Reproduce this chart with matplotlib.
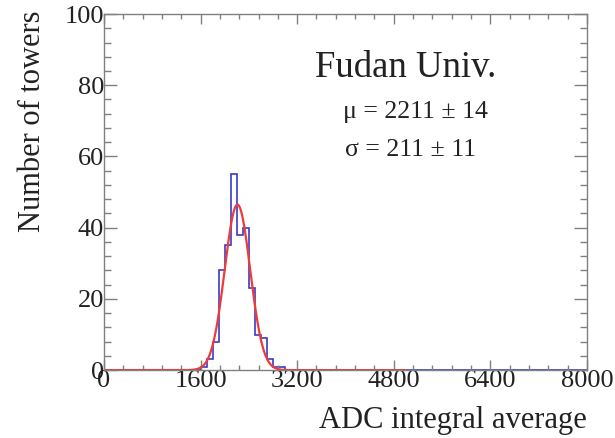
import numpy as np
import matplotlib
matplotlib.use('Agg')
import matplotlib.pyplot as plt
from matplotlib.ticker import MultipleLocator

plt.rcParams['font.family'] = ['Liberation Serif', 'DejaVu Serif']
plt.rcParams['mathtext.fontset'] = 'stix'

# tower counts per 100-ADC bin
bin_edges = np.arange(0, 8001, 100)
bin_lo = [1600, 1700, 1800, 1900, 2000, 2100, 2200, 2300, 2400, 2500, 2600, 2700, 2800, 2900]
bin_counts = [1, 3, 8, 28, 35, 55, 38, 40, 23, 10, 9, 3, 1, 1]

# gaussian fit result
fit_const = 46.5
fit_mu = 2211
fit_sigma = 211
fit_range = (0, 5000)

counts = np.zeros(len(bin_edges) - 1)
for lo, c in zip(bin_lo, bin_counts):
    counts[lo // 100] = c

fig = plt.figure(figsize=(6.15, 4.38), dpi=100)
ax = fig.add_axes([0.169, 0.155, 0.7855, 0.813])

ax.stairs(counts, bin_edges, color='#3a3ac8', lw=1.2)
xf = np.linspace(fit_range[0], fit_range[1], 800)
yf = fit_const * np.exp(-0.5 * ((xf - fit_mu) / fit_sigma) ** 2)
ax.plot(xf, yf, color='#f03a3a', lw=1.6)

ax.set_xlim(0, 8000)
ax.set_ylim(0, 100)
ax.xaxis.set_major_locator(MultipleLocator(1600))
ax.xaxis.set_minor_locator(MultipleLocator(320))
ax.yaxis.set_major_locator(MultipleLocator(20))
ax.yaxis.set_minor_locator(MultipleLocator(4))

for s in ax.spines.values():
    s.set_color('#808080')
    s.set_linewidth(1.0)
ax.tick_params(which='both', direction='in', top=True, right=True,
               color='#808080', width=1.0, labelcolor='#222222', labelsize=19)
ax.tick_params(axis='x', which='major', length=7, pad=0)
ax.tick_params(axis='x', which='minor', length=3.5)
ax.tick_params(axis='y', which='major', length=9.5, pad=0)
ax.tick_params(axis='y', which='minor', length=5)

ax.set_xlabel('ADC integral average', fontsize=22, color='#222222')
ax.xaxis.set_label_coords(1.0, -0.1)
ax.xaxis.label.set_horizontalalignment('right')
ax.set_ylabel('Number of towers', fontsize=22, color='#222222')
ax.yaxis.set_label_coords(-0.147, 1.01)
ax.yaxis.label.set_verticalalignment('center')
ax.yaxis.label.set_horizontalalignment('right')

ax.text(0.437, 0.823, 'Fudan Univ.', transform=ax.transAxes, fontsize=26.5,
        color='#222222', va='baseline')
ax.text(0.495, 0.725, '\u03bc = 2211 \u00b1 14', transform=ax.transAxes,
        fontsize=18.5, color='#222222', va='center')
ax.text(0.498, 0.618, '\u03c3 = 211 \u00b1 11', transform=ax.transAxes,
        fontsize=18.5, color='#222222', va='center')

fig.savefig('out.png', dpi=100)
